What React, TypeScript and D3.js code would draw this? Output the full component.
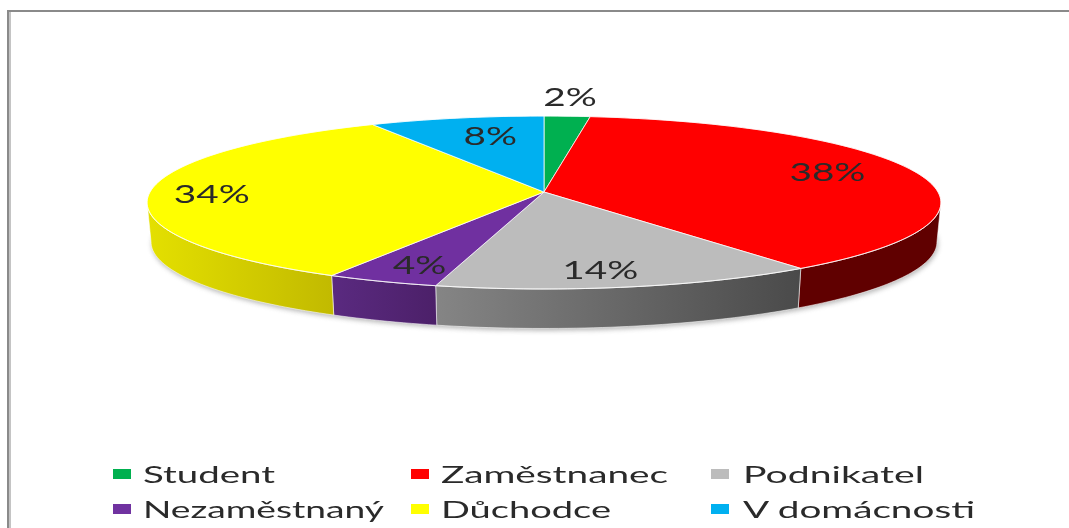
import React from "react";
import * as d3 from "d3";

const categories = ["Student", "Zaměstnanec", "Podnikatel", "Nezaměstnaný", "Důchodce", "V domácnosti"];
const shares = [2.1, 37.9, 13.9, 4.1, 34.0, 8.0];
const topColors = ["#00b050", "#ff0000", "#bcbcbc", "#7030a0", "#ffff00", "#00b0f0"];
const wallLeft = ["#008040", "#600000", "#858585", "#5a2a80", "#e4e000", "#0080b0"];
const wallRight = ["#008040", "#600000", "#4a4a4a", "#4c2069", "#c2ba00", "#0080b0"];
const labelNudge = [[7, -34], [-15, -4], [-10, 3], [2, 3], [-17, 1.5], [18, 4]];
const legendWidths = [132, 227, 181, 241, 170, 232];

const W = 1069, H = 528;
const cx = 544, cy = 192, A = 394, B = 85.2, K = 0.1213, DEPTH = 39.5, SHRINK = 0.99;

const project = (r: number, t: number, lower = false): [number, number] => {
  const u = r * Math.sin(t), v = r * Math.cos(t), w = 1 + K * v;
  const s = lower ? SHRINK : 1;
  return [cx + (A * u / w) * s, cy - (B * v) / w + (lower ? DEPTH : 0)];
};

const samples = (a: number, b: number) => {
  const n = Math.max(2, Math.ceil(Math.abs(b - a) / 0.02));
  return d3.range(n + 1).map((i) => a + ((b - a) * i) / n);
};

const line = d3.line<[number, number]>().x((d) => d[0]).y((d) => d[1]);
const slices = d3.pie<number>().sort(null).startAngle(0).endAngle(2 * Math.PI)(shares);
const FRONT_A = Math.PI / 2 + 0.12, FRONT_B = (3 * Math.PI) / 2 - 0.12;

const legendX = [113, 411, 711];
const legendTextX = [143, 441, 743];
const legendY = [474, 509];

export default function App() {
  const walls = slices
    .map((s, i) => ({ i, a: Math.max(s.startAngle, FRONT_A), b: Math.min(s.endAngle, FRONT_B) }))
    .filter((w) => w.b > w.a);
  const outline = samples(0, 2 * Math.PI);
  const lowerFront = samples(FRONT_A - 0.12, FRONT_B + 0.12);
  const silhouette = (line(lowerFront.map((t) => project(1, t, true))) as string) + "Z";
  return (
    <svg width={W} height={H} viewBox={`0 0 ${W} ${H}`} style={{ position: "absolute", left: 0, top: 0, background: "#fff" }}>
      <defs>
        <filter id="soft" x="-5%" y="-20%" width="110%" height="140%">
          <feGaussianBlur stdDeviation="2.5" />
        </filter>
        <filter id="txt" x="-5%" y="-20%" width="110%" height="140%">
          <feGaussianBlur stdDeviation="0.6" />
        </filter>
        {walls.map((w) => {
          const x0 = d3.min(samples(w.a, w.b), (t) => project(1, t)[0]) as number;
          const x1 = d3.max(samples(w.a, w.b), (t) => project(1, t)[0]) as number;
          return (
            <linearGradient key={w.i} id={`wall${w.i}`} gradientUnits="userSpaceOnUse" x1={x0} x2={x1} y1={0} y2={0}>
              <stop offset="0" stopColor={wallLeft[w.i]} />
              <stop offset="1" stopColor={wallRight[w.i]} />
            </linearGradient>
          );
        })}
      </defs>

      <rect x={7} y={10} width={W} height={2} fill="#8a8a8a" />
      <rect x={7} y={10} width={2} height={H} fill="#8a8a8a" />
      <rect x={9} y={12} width={2} height={H} fill="#c4c4c4" />

      <path d={silhouette} fill="#777" opacity={0.55} filter="url(#soft)" transform="translate(1,2)" />

      {walls.map((w) => {
        const ts = samples(w.a, w.b);
        const pts = [...ts.map((t) => project(1, t)), ...ts.slice().reverse().map((t) => project(1, t, true))];
        return <path key={w.i} d={(line(pts) as string) + "Z"} fill={`url(#wall${w.i})`} stroke="#fff" strokeOpacity={0.7} strokeWidth={0.8} />;
      })}

      {slices.map((s, i) => {
        const pts: [number, number][] = [[cx, cy], ...samples(s.startAngle, s.endAngle).map((t) => project(1, t))];
        return <path key={i} d={(line(pts) as string) + "Z"} fill={topColors[i]} stroke="#fff" strokeOpacity={0.75} strokeWidth={1} strokeLinejoin="round" />;
      })}
      <path d={(line(outline.map((t) => project(1, t))) as string) + "Z"} fill="none" stroke="#fff" strokeOpacity={0.6} strokeWidth={0.8} />

      <g fontFamily="Lato, sans-serif" fontSize={25} fill="#2a2a2a" filter="url(#txt)">
        {slices.map((s, i) => {
          const [x, y] = project(0.8, (s.startAngle + s.endAngle) / 2);
          return (
            <text key={i} transform={`translate(${x + labelNudge[i][0]},${y + labelNudge[i][1]}) scale(1.55,1)`} textAnchor="middle" dominantBaseline="central">
              {Math.round(shares[i])}%
            </text>
          );
        })}
      </g>

      <g fontFamily="Lato, sans-serif" fontSize={24} fill="#2a2a2a" filter="url(#txt)">
        {categories.map((c, i) => {
          const col = i % 3, row = Math.floor(i / 3);
          return (
            <g key={c}>
              <rect x={legendX[col]} y={legendY[row] - 5} width={18} height={10} fill={topColors[i]} />
              <text x={legendTextX[col]} y={legendY[row] - 1} dominantBaseline="central" textLength={legendWidths[i]} lengthAdjust="spacingAndGlyphs">
                {c}
              </text>
            </g>
          );
        })}
      </g>
    </svg>
  );
}
